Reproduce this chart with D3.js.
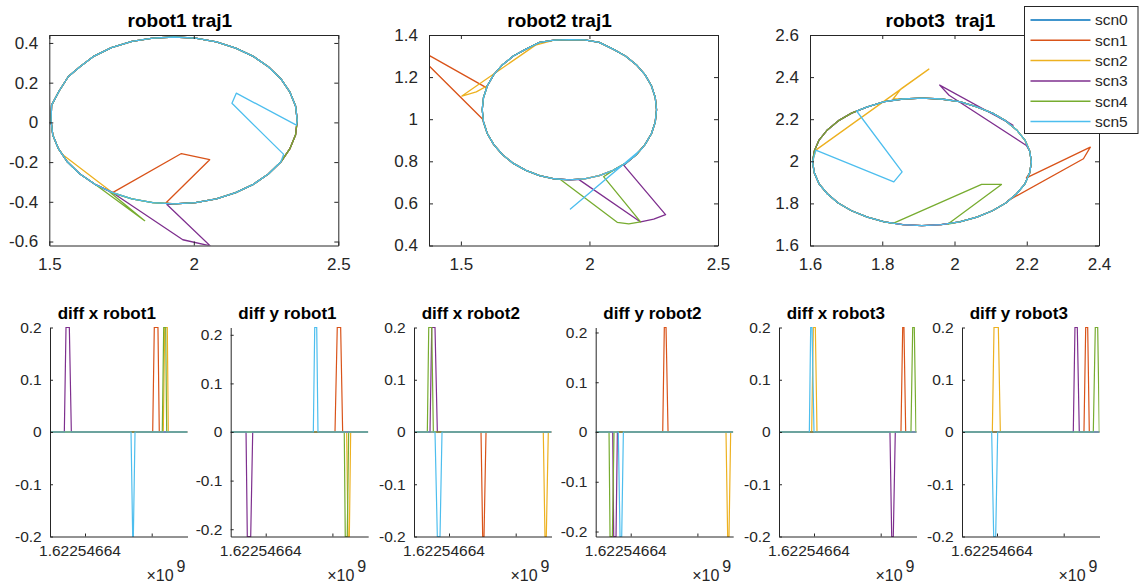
<!DOCTYPE html>
<html>
<head>
<meta charset="utf-8">
<script src="https://cdn.jsdelivr.net/npm/d3@7"></script>
<style>
  body { margin: 0; background: #fff; }
  text { font-family: 'Liberation Sans', Arial, sans-serif; }
</style>
</head>
<body>
<div id="root"></div>
<script>
// ---- data ----
const scenarios = ['scn0', 'scn1', 'scn2', 'scn3', 'scn4', 'scn5'];
const palette = ['#0072BD', '#D95319', '#EDB120', '#7E2F8E', '#77AC30', '#4DBEEE'];

const topTitles = ['robot1 traj1', 'robot2 traj1', 'robot3  traj1'];
const bottomTitles = ['diff x robot1', 'diff y robot1', 'diff x robot2', 'diff y robot2', 'diff x robot3', 'diff y robot3'];

// nominal loop each robot follows (x, y), closed, starting at the top and going left
const base1 = [[1.932,0.430],[1.858,0.424],[1.786,0.408],[1.715,0.376],[1.655,0.334],[1.606,0.280],[1.566,0.231],
  [1.534,0.158],[1.508,0.087],[1.506,0.010],[1.512,-0.063],[1.532,-0.134],[1.563,-0.200],[1.606,-0.260],
  [1.658,-0.312],[1.719,-0.354],[1.786,-0.385],[1.858,-0.404],[1.932,-0.410],[2.006,-0.404],[2.078,-0.385],
  [2.145,-0.354],[2.206,-0.312],[2.258,-0.260],[2.301,-0.200],[2.332,-0.134],[2.352,-0.063],[2.358,0.010],
  [2.352,0.083],[2.332,0.154],[2.301,0.220],[2.258,0.280],[2.206,0.332],[2.145,0.374],[2.078,0.405],
  [2.006,0.424],[1.932,0.430]];
const base2 = [[1.922,1.378],[1.863,1.376],[1.806,1.365],[1.753,1.333],[1.704,1.300],[1.662,1.259],[1.628,1.212],
  [1.603,1.159],[1.588,1.103],[1.583,1.045],[1.588,0.987],[1.603,0.931],[1.628,0.879],[1.662,0.831],
  [1.704,0.790],[1.753,0.757],[1.806,0.732],[1.863,0.717],[1.922,0.712],[1.981,0.717],[2.038,0.732],
  [2.092,0.757],[2.140,0.790],[2.182,0.831],[2.216,0.879],[2.241,0.931],[2.256,0.987],[2.261,1.045],
  [2.256,1.103],[2.241,1.159],[2.216,1.212],[2.182,1.259],[2.140,1.300],[2.092,1.333],[2.038,1.365],
  [1.981,1.377],[1.922,1.378]];
const base3 = [[1.910,2.300],[1.857,2.296],[1.806,2.283],[1.759,2.259],[1.715,2.229],[1.678,2.192],[1.648,2.149],
  [1.625,2.101],[1.612,2.049],[1.607,1.997],[1.612,1.945],[1.625,1.893],[1.648,1.846],[1.678,1.802],
  [1.715,1.765],[1.759,1.735],[1.806,1.712],[1.857,1.699],[1.910,1.694],[1.963,1.699],[2.014,1.712],
  [2.062,1.735],[2.105,1.765],[2.142,1.802],[2.172,1.846],[2.195,1.893],[2.208,1.945],[2.213,1.997],
  [2.208,2.049],[2.195,2.101],[2.172,2.149],[2.142,2.192],[2.105,2.229],[2.062,2.259],[2.014,2.283],
  [1.963,2.296],[1.910,2.300]];

// per scenario detour: leave loop after index, go through pts, rejoin at resume
const dev1 = [
  null,
  { after: 15, pts: [[1.957,-0.157],[2.055,-0.188],[1.904,-0.405]], resume: 18 },
  { after: 11, pts: [[1.549,-0.166]], resume: 15 },
  { after: 15, pts: [[1.962,-0.591],[2.057,-0.622],[1.907,-0.414]], resume: 18 },
  { after: 14, pts: [[1.83,-0.495],[1.71,-0.352]], resume: 16 },
  { after: 24, pts: [[2.311,-0.161],[2.132,0.096],[2.147,0.147],[2.355,-0.014]], resume: 27 }
];
const dev2 = [
  null,
  { after: 7, pts: [[1.597,1.151],[1.378,1.302],[1.376,1.254],[1.585,1.0]], resume: 10 },
  { after: 1, pts: [[1.79,1.352],[1.504,1.11],[1.56,1.13]], resume: 7 },
  { after: 18, pts: [[1.958,0.714],[2.199,0.512],[2.25,0.525],[2.296,0.547],[2.134,0.781]], resume: 23 },
  { after: 17, pts: [[1.887,0.714],[2.108,0.51],[2.153,0.503],[2.199,0.512],[2.055,0.727]], resume: 21 },
  { after: 23, pts: [[2.19,0.845],[1.926,0.573],[2.2,0.855]], resume: 24 }
];
const dev3 = [
  null,
  { after: 23, pts: [[2.148,1.813],[2.357,2.012],[2.376,2.067],[2.199,1.921]], resume: 26 },
  { after: 1, pts: [[1.83,2.296],[1.853,2.346],[1.929,2.438],[1.616,2.053]], resume: 9 },
  { after: 28, pts: [[2.199,2.075],[1.985,2.314],[1.959,2.362],[2.162,2.171]], resume: 31 },
  { after: 16, pts: [[1.83,1.705],[2.075,1.89],[2.13,1.89],[1.982,1.702]], resume: 20 },
  { after: 3, pts: [[1.729,2.239],[1.855,1.95],[1.832,1.902],[1.616,2.053]], resume: 9 }
];

const topXDomains = [[1.5, 2.5], [1.376, 2.5], [1.6, 2.4]];
const topYDomains = [[-0.62, 0.44], [0.4, 1.4], [1.6, 2.6]];
const topXTicks = [[1.5, 2, 2.5], [1.5, 2, 2.5], [1.6, 1.8, 2, 2.2, 2.4]];
const topYTicks = [[-0.6, -0.4, -0.2, 0, 0.2, 0.4], [0.4, 0.6, 0.8, 1, 1.2, 1.4], [1.6, 1.8, 2, 2.2, 2.4, 2.6]];

// diff spikes, seconds after t0: [start, top start, top end, end, value]
const t0 = 1622546640;
const timeDomain = [-5.25, 15.37];
const timeTicks = [0, 10];
const diffX1 = [[], [[10.15,10.39,10.94,11.14,0.2]], [[11.74,11.95,12.34,12.49,0.2]],
  [[-3.1,-2.85,-2.35,-2.05,0.2]], [[11.59,11.8,12.1,12.25,0.2]], [[6.9,7.15,7.25,7.5,-0.2]]];
const diffY1 = [[], [[10.39,10.73,11.24,11.54,0.215]], [[12.14,12.34,12.54,12.74,-0.215]],
  [[-2.95,-2.76,-2.25,-1.95,-0.215]], [[11.78,11.93,12.23,12.44,-0.215]], [[7.14,7.35,7.65,7.84,0.215]]];
const diffX2 = [[], [[4.8,5.05,5.25,5.55,-0.2]], [[14.14,14.39,14.59,14.89,-0.2]],
  [[-2.85,-2.59,-2.1,-1.75,0.2]], [[-3.25,-3.04,-2.59,-2.35,0.2]], [[-2.1,-1.75,-1.35,-1.05,-0.2]]];
const diffY2 = [[], [[4.8,5.04,5.3,5.6,0.21]], [[14.29,14.54,14.74,14.99,-0.21]],
  [[-2.7,-2.55,-2.2,-2.0,-0.21]], [[-3.25,-3.1,-2.75,-2.5,-0.21]], [[-1.86,-1.6,-1.35,-1.1,-0.21]]];
const diffX3 = [[], [[13.04,13.3,13.49,13.75,0.2]], [[-0.35,-0.1,0.2,0.45,0.2]],
  [[11.39,11.65,11.89,12.19,-0.2]], [[14.54,14.8,15.04,15.29,0.2]], [[-0.7,-0.5,-0.3,0.0,0.2]]];
const diffY3 = [[], [[13.04,13.3,13.6,13.84,0.2]], [[-0.7,-0.45,0.2,0.5,0.2]],
  [[11.44,11.69,12.04,12.34,0.2]], [[14.44,14.74,15.1,15.34,0.2]], [[-0.8,-0.5,-0.2,0.1,-0.2]]];
const diffYLimits = [0.2, 0.215, 0.2, 0.21, 0.2, 0.2];
const diffYTicks = [-0.2, -0.1, 0, 0.1, 0.2];

// ---- layout ----
const width = 1141, height = 583;
const axisColor = '#262626';
const topLefts = [49.3, 429, 810], topW = 289, topT = 35, topB = 245.5;
const botLefts = [50, 230.7, 414, 595.7, 779, 962], botW = 137.5, botT = 327.5, botB = 536.5;

const svg = d3.select('#root')
  .append('svg')
  .attr('width', width)
  .attr('height', height);

const fmt = d => String(+d.toFixed(2));

const styleAxis = (g, size) => g
  .attr('color', axisColor)
  .attr('font-size', size)
  .attr('font-family', "'Liberation Sans', Arial, sans-serif")
  .call(s => s.selectAll('text').attr('fill', axisColor));

const buildPath = (base, dev) => dev
  ? base.slice(0, dev.after + 1).concat(dev.pts, base.slice(dev.resume))
  : base;

// ---- trajectory plots ----
const bases = [base1, base2, base3];
const devs = [dev1, dev2, dev3];

bases.forEach((base, p) => {
  const left = topLefts[p], right = left + topW;
  const x = d3.scaleLinear().domain(topXDomains[p]).range([left, right]);
  const y = d3.scaleLinear().domain(topYDomains[p]).range([topB, topT]);

  svg.append('clipPath').attr('id', 'clipTop' + p)
    .append('rect').attr('x', left).attr('y', topT).attr('width', topW).attr('height', topB - topT);

  const line = d3.line().x(d => x(d[0])).y(d => y(d[1]));
  svg.append('g').attr('clip-path', `url(#clipTop${p})`)
    .selectAll('path')
    .data(scenarios.map((s, i) => buildPath(base, devs[p][i])))
    .enter()
    .append('path')
    .attr('d', line)
    .attr('fill', 'none')
    .attr('stroke', (d, i) => palette[i])
    .attr('stroke-width', 1.3)
    .attr('stroke-linejoin', 'round');

  svg.append('g').attr('transform', `translate(0,${topB})`)
    .call(d3.axisBottom(x).tickValues(topXTicks[p]).tickFormat(fmt).tickSize(-4).tickSizeOuter(0).tickPadding(12))
    .call(g => styleAxis(g, 17));
  svg.append('g').attr('transform', `translate(0,${topT})`)
    .call(d3.axisTop(x).tickValues(topXTicks[p]).tickFormat('').tickSize(-4).tickSizeOuter(0))
    .call(g => styleAxis(g, 17));
  svg.append('g').attr('transform', `translate(${left},0)`)
    .call(d3.axisLeft(y).tickValues(topYTicks[p]).tickFormat(fmt).tickSize(-4).tickSizeOuter(0).tickPadding(11))
    .call(g => styleAxis(g, 17));
  svg.append('g').attr('transform', `translate(${right},0)`)
    .call(d3.axisRight(y).tickValues(topYTicks[p]).tickFormat('').tickSize(-4).tickSizeOuter(0))
    .call(g => styleAxis(g, 17));

  svg.append('text')
    .attr('x', left + topW / 2 - 14)
    .attr('y', 27)
    .attr('text-anchor', 'middle')
    .attr('font-size', '19px')
    .attr('font-weight', 'bold')
    .attr('fill', '#000')
    .style('white-space', 'pre')
    .text(topTitles[p]);
});

// ---- diff plots ----
const diffs = [diffX1, diffY1, diffX2, diffY2, diffX3, diffY3];

const spikeSeries = spikes => {
  const pts = [[timeDomain[0], 0]];
  spikes.forEach(s => pts.push([s[0], 0], [s[1], s[4]], [s[2], s[4]], [s[3], 0]));
  pts.push([timeDomain[1], 0]);
  return pts;
};

diffs.forEach((series, p) => {
  const left = botLefts[p], right = left + botW;
  const x = d3.scaleLinear().domain(timeDomain.map(t => t0 + t)).range([left, right]);
  const y = d3.scaleLinear().domain([-diffYLimits[p], diffYLimits[p]]).range([botB, botT]);

  svg.append('clipPath').attr('id', 'clipBot' + p)
    .append('rect').attr('x', left).attr('y', botT - 1).attr('width', botW).attr('height', botB - botT + 2);

  const line = d3.line().x(d => x(t0 + d[0])).y(d => y(d[1]));
  svg.append('g').attr('clip-path', `url(#clipBot${p})`)
    .selectAll('path')
    .data(series.map(spikeSeries))
    .enter()
    .append('path')
    .attr('d', line)
    .attr('fill', 'none')
    .attr('stroke', (d, i) => palette[i])
    .attr('stroke-width', 1.2);

  svg.append('g').attr('transform', `translate(0,${botB})`)
    .call(d3.axisBottom(x).tickValues(timeTicks.map(t => t0 + t))
      .tickFormat((d, i) => i === 0 ? (d / 1e9).toFixed(8) : '')
      .tickSize(-3).tickSizeOuter(0).tickPadding(8.5))
    .call(g => styleAxis(g, 15.5))
    .call(g => g.selectAll('text').attr('dx', -5.5));
  svg.append('g').attr('transform', `translate(${left},0)`)
    .call(d3.axisLeft(y).tickValues(diffYTicks).tickFormat(fmt).tickSize(-3).tickSizeOuter(0).tickPadding(8.3))
    .call(g => styleAxis(g, 15.5));

  // exponent of the time axis
  const expo = svg.append('text')
    .attr('x', right - 2)
    .attr('y', 580.5)
    .attr('text-anchor', 'end')
    .attr('font-size', '16px')
    .attr('fill', axisColor);
  expo.append('tspan').text('\u00d710');
  expo.append('tspan').attr('dx', 3).attr('dy', -8.5).text('9');

  svg.append('text')
    .attr('x', left + botW / 2 - 12)
    .attr('y', 319.3)
    .attr('text-anchor', 'middle')
    .attr('font-size', '17px')
    .attr('font-weight', 'bold')
    .attr('fill', '#000')
    .text(bottomTitles[p]);
});

// ---- legend ----
const legend = svg.append('g').attr('transform', 'translate(1024.5,6.5)');
legend.append('rect')
  .attr('width', 113.5)
  .attr('height', 127)
  .attr('fill', '#fff')
  .attr('stroke', axisColor)
  .attr('stroke-width', 1);

const rows = legend.selectAll('.legend')
  .data(scenarios)
  .enter()
  .append('g')
  .attr('class', 'legend')
  .attr('transform', (d, i) => `translate(0,${13.5 + i * 20.3})`);
rows.append('line')
  .attr('x1', 6).attr('x2', 66)
  .attr('stroke', (d, i) => palette[i])
  .attr('stroke-width', 1.5);
rows.append('text')
  .attr('x', 70.5)
  .attr('dy', '0.35em')
  .attr('font-size', '15.5px')
  .attr('fill', axisColor)
  .text(d => d);
</script>
</body>
</html>
